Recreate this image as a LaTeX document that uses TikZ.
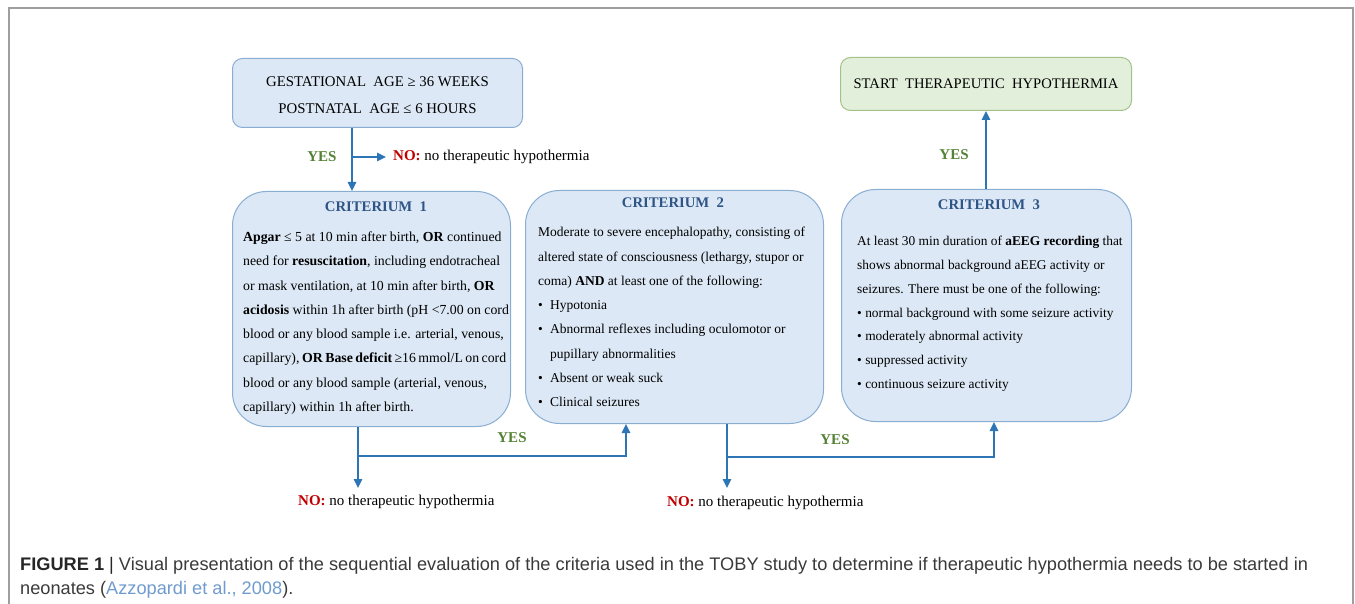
\documentclass[tikz,border=0pt]{standalone}
\usepackage{fontspec}
\setmainfont{Liberation Serif}
\newfontfamily\capfont{Liberation Sans}
\usepackage{xcolor}
\usetikzlibrary{arrows.meta,positioning}
\definecolor{boxblue}{HTML}{DCE8F5}
\definecolor{lineblue}{HTML}{8AADD2}
\definecolor{boxgreen}{HTML}{E2EFDA}
\definecolor{linegreen}{HTML}{A3C28A}
\definecolor{flowblue}{HTML}{2E75B6}
\definecolor{titleblue}{HTML}{2F5587}
\definecolor{yesgreen}{HTML}{548235}
\definecolor{nored}{HTML}{C00000}
\definecolor{capgrey}{HTML}{3A3A3A}
\definecolor{linkblue}{HTML}{6F9BCF}
\tikzstyle{crit} = [draw=lineblue, fill=boxblue, line width=1pt, rounded corners=34pt, inner sep=0pt]
\tikzstyle{head} = [draw=lineblue, fill=boxblue, line width=1pt, rounded corners=10pt, inner sep=0pt]
\tikzstyle{goal} = [draw=linegreen, fill=boxgreen, line width=1pt, rounded corners=10pt, inner sep=0pt]
\tikzstyle{title} = [font=\fontsize{14.7}{16}\selectfont\bfseries, text=titleblue, inner sep=0pt]
\tikzstyle{body} = [align=left, anchor=north west, inner sep=0pt]
\tikzstyle{flow} = [draw=flowblue, line width=1.6pt, -{Triangle[length=9pt,width=8.5pt]}]
\tikzstyle{yes} = [font=\fontsize{15}{16}\selectfont\bfseries, text=yesgreen]
\tikzstyle{no} = [font=\fontsize{15}{16}\selectfont, anchor=west, inner sep=0pt]
\newcommand{\nolabel}{\textcolor{nored}{\textbf{NO:}} no therapeutic hypothermia}
\newcommand{\itm}{\makebox[12pt][l]{\textbullet}}

\begin{document}
\begin{tikzpicture}[x=1pt, y=-1pt]
\useasboundingbox (0,0) rectangle (1355,604);
% frame
\draw[draw=black!38, line width=1.5pt] (9,604) -- (9,8) -- (1353,8) -- (1353,604);

% boxes
\node[head, anchor=north west, minimum width=290pt, minimum height=69pt] (gest) at (232,58) {};
\node[goal, anchor=north west, minimum width=291pt, minimum height=53pt] (start) at (840,57) {};
\node[crit, anchor=north west, minimum width=278pt, minimum height=235pt] (crit1) at (232,191) {};
\node[crit, anchor=north west, minimum width=298pt, minimum height=233pt] (crit2) at (525,190) {};
\node[crit, anchor=north west, minimum width=290pt, minimum height=232pt] (crit3) at (841,189) {};

% texts
\node[font=\fontsize{14.8}{27}\selectfont, align=center, yshift=-2pt] (gesttext) at (gest.center)
    {GESTATIONAL\ \ AGE ≥ 36 WEEKS\\POSTNATAL\ \ AGE ≤ 6 HOURS};
\node[font=\fontsize{14.6}{17}\selectfont] (starttext) at (start.center)
    {START\ \ THERAPEUTIC\ \ HYPOTHERMIA};

\node[title] (title1) at (376,207) {CRITERIUM\ \ 1};
\node[title] (title2) at (673,203) {CRITERIUM\ \ 2};
\node[title] (title3) at (989,205) {CRITERIUM\ \ 3};

\node[body, font=\fontsize{13.8}{24.3}\selectfont] (body1) at (243,231.5) {%
    \textbf{Apgar} ≤ 5 at 10 min after birth, \textbf{OR} continued\\
    need for \textbf{resuscitation}, including endotracheal\\
    or mask ventilation, at 10 min after birth, \textbf{OR}\\
    \textbf{acidosis} within 1h after birth (pH <7.00 on cord\\
    blood or any blood sample i.e. arterial, venous,\\
    \makebox[263pt][s]{capillary), \textbf{OR Base deficit} ≥16 mmol/L on cord}\\
    blood or any blood sample (arterial, venous,\\
    capillary) within 1h after birth.};
\node[body, font=\fontsize{13.5}{24.3}\selectfont] (body2) at (538,227) {%
    Moderate to severe encephalopathy, consisting of\\
    altered state of consciousness (lethargy, stupor or\\
    coma) \textbf{AND} at least one of the following:\\
    \itm Hypotonia\\
    \itm Abnormal reflexes including oculomotor or\\
    \hspace*{12pt}pupillary abnormalities\\
    \itm Absent or weak suck\\
    \itm Clinical seizures};
\node[body, font=\fontsize{13.4}{23.8}\selectfont] (body3) at (857,236) {%
    At least 30 min duration of \textbf{aEEG recording} that\\
    shows abnormal background aEEG activity or\\
    seizures. There must be one of the following:\\
    \textbullet\ normal background with some seizure activity\\
    \textbullet\ moderately abnormal activity\\
    \textbullet\ suppressed activity\\
    \textbullet\ continuous seizure activity};

% junctions
\coordinate (j0) at (352,157);
\coordinate (j1) at (358,456);
\coordinate (j2) at (727,457);
\node[no] (no0) at (393,157) {\nolabel};
\node[no] (no1) at (298,502) {\nolabel};
\node[no] (no2) at (667,503) {\nolabel};
\coordinate (d1) at (358,488);
\coordinate (d2) at (727,488);

% connectors
\draw[flow] (gest.south -| j0) -- (crit1.north -| j0);
\draw[flow, shorten >=7pt] (j0) -- (no0.west);
\draw[flow] (crit1.south -| j1) -- (d1);
\draw[flow] (j1) -- (j1 -| 626,0) -- (crit2.south -| 626,0);
\draw[flow] (crit2.south -| j2) -- (d2);
\draw[flow] (j2) -- (j2 -| 994,0) -- (crit3.south -| 994,0);
\draw[flow] (crit3.north -| 986,0) -- (start.south -| 986,0);

\node[yes] (yes0) at (322,157) {YES};
\node[yes] (yes1) at (512,438) {YES};
\node[yes] (yes2) at (835,440) {YES};
\node[yes] (yes3) at (954,155) {YES};

% caption
\node[anchor=north west, inner sep=0pt, align=left, text=capgrey,
    font=\capfont\fontsize{18.2}{24}\selectfont] (caption) at (20,557)
    {\textcolor{black!85}{\textbf{FIGURE 1} |} Visual presentation of the sequential evaluation of the criteria used in the TOBY study to determine if therapeutic hypothermia needs to be started in\\
    neonates (\textcolor{linkblue}{Azzopardi et al., 2008}).};
\end{tikzpicture}
\end{document}
